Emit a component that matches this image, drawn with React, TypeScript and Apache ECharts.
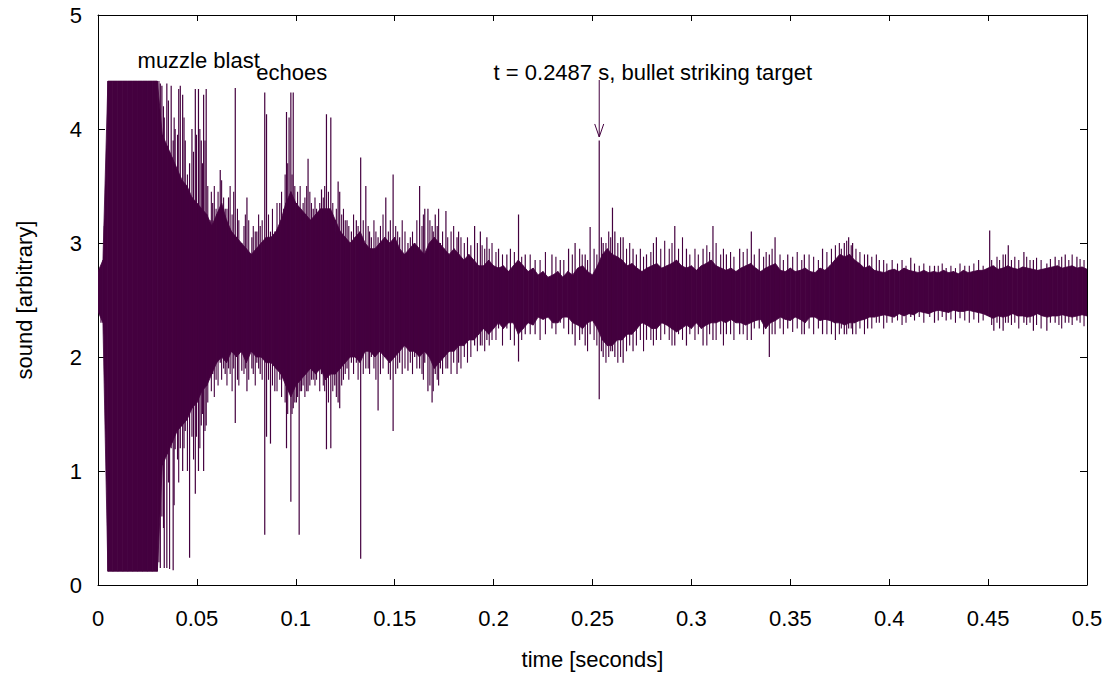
import { useEffect, useRef } from 'react';
import * as echarts from 'echarts';

const COLOR = '#44003f';
const FONT = '"Liberation Sans", Arial, Helvetica, sans-serif';
const FONT_SIZE = 22;

// x-axis ticks and y-axis ticks
const xTicks = [0, 0.05, 0.1, 0.15, 0.2, 0.25, 0.3, 0.35, 0.4, 0.45, 0.5];
const yTicks = [0, 1, 2, 3, 4, 5];

const CORE_STEP = 0.0025;
const coreHi = [
  2.75, 2.85, 4.42, 4.42, 4.42, 4.42, 4.42, 4.42, 4.42, 4.42,
  4.42, 4.42, 4.42, 3.95, 3.85, 3.75, 3.65, 3.55, 3.5, 3.4,
  3.35, 3.3, 3.25, 3.15, 3.25, 3.35, 3.2, 3.1, 3.05, 3.0,
  2.95, 2.9, 2.95, 3.0, 3.05, 3.05, 3.1, 3.2, 3.35, 3.45,
  3.35, 3.3, 3.25, 3.2, 3.25, 3.3, 3.3, 3.3, 3.2, 3.1,
  3.05, 3.0, 3.05, 3.1, 3.0, 2.95, 2.95, 3.0, 3.05, 3.0,
  3.05, 2.95, 2.9, 2.95, 3.0, 2.95, 2.9, 3.0, 3.05, 3.0,
  2.95, 2.9, 2.95, 2.9, 2.85, 2.9, 2.85, 2.8, 2.8, 2.85,
  2.8, 2.78, 2.8, 2.75, 2.8, 2.85, 2.8, 2.75, 2.78, 2.72,
  2.75, 2.7, 2.72, 2.75, 2.7, 2.75, 2.72, 2.78, 2.8, 2.75,
  2.72, 2.8, 2.9, 2.95, 2.9, 2.88, 2.85, 2.8, 2.82, 2.78,
  2.75, 2.78, 2.8, 2.82, 2.78, 2.8, 2.82, 2.85, 2.8, 2.78,
  2.8, 2.76, 2.8, 2.82, 2.85, 2.8, 2.78, 2.76, 2.78, 2.75,
  2.78, 2.8, 2.82, 2.78, 2.75, 2.78, 2.8, 2.82, 2.76, 2.75,
  2.78, 2.75, 2.76, 2.78, 2.75, 2.74, 2.78, 2.76, 2.8, 2.85,
  2.9, 2.88, 2.9, 2.85, 2.82, 2.78, 2.8, 2.76, 2.75, 2.74,
  2.76, 2.77, 2.75, 2.78, 2.76, 2.75, 2.74, 2.76, 2.74, 2.75,
  2.74, 2.76, 2.74, 2.75, 2.73, 2.76, 2.74, 2.75, 2.76, 2.76,
  2.78, 2.8, 2.77, 2.78, 2.8, 2.78, 2.77, 2.79, 2.78, 2.77,
  2.76, 2.77, 2.78, 2.79, 2.8, 2.78, 2.79, 2.8, 2.78, 2.79,
  2.77,
];
const coreLo = [
  2.4, 2.3, 0.12, 0.12, 0.12, 0.12, 0.12, 0.12, 0.12, 0.12,
  0.12, 0.12, 0.12, 1.05, 1.15, 1.25, 1.35, 1.4, 1.45, 1.55,
  1.6, 1.7, 1.75, 1.85, 1.95, 2.0, 1.95, 2.05, 2.0, 2.05,
  1.95, 2.05, 2.0, 2.0, 1.95, 1.95, 1.9, 1.85, 1.75, 1.65,
  1.75, 1.8, 1.85, 1.9, 1.85, 1.9, 1.8, 1.85, 1.85, 1.9,
  1.95, 2.0, 2.0, 1.95, 2.05, 2.05, 2.0, 2.05, 2.0, 1.95,
  2.0, 2.05, 2.1, 2.05, 2.05, 2.0, 2.05, 2.0, 1.9, 1.95,
  2.0, 2.05, 2.05, 2.1, 2.1, 2.15, 2.15, 2.2, 2.25, 2.2,
  2.25, 2.3, 2.25, 2.3, 2.3, 2.2, 2.25, 2.3, 2.28, 2.35,
  2.33, 2.35, 2.3, 2.3, 2.35, 2.35, 2.3, 2.28, 2.25, 2.3,
  2.32, 2.25, 2.15, 2.1, 2.1, 2.15, 2.15, 2.2, 2.2, 2.25,
  2.3, 2.28, 2.25, 2.25, 2.3, 2.28, 2.25, 2.22, 2.25, 2.28,
  2.25, 2.3, 2.25, 2.28, 2.3, 2.3, 2.32, 2.3, 2.33, 2.3,
  2.3, 2.28, 2.3, 2.32, 2.33, 2.25, 2.3, 2.32, 2.35, 2.33,
  2.32, 2.35, 2.33, 2.3, 2.35, 2.35, 2.32, 2.33, 2.32, 2.3,
  2.3, 2.28, 2.3, 2.3, 2.32, 2.33, 2.35, 2.35, 2.36, 2.37,
  2.36, 2.35, 2.38, 2.36, 2.38, 2.37, 2.4, 2.39, 2.38, 2.4,
  2.41, 2.4, 2.39, 2.41, 2.4, 2.4, 2.41, 2.4, 2.39, 2.38,
  2.36, 2.34, 2.36, 2.35, 2.36, 2.38, 2.36, 2.36, 2.35, 2.36,
  2.38, 2.36, 2.35, 2.36, 2.36, 2.37, 2.36, 2.35, 2.36, 2.37,
  2.36,
];

// Large individual spikes: [time, low, high]
const spikes: [number, number, number][] = [
  [0.0015, 2.3, 2.75], [0.0032, 2.2, 3.15], [0.0315, 0.15, 4.4], [0.0323, 0.6, 4.38],
  [0.0335, 0.15, 4.1], [0.0348, 0.15, 4.4], [0.037, 1.2, 4.38], [0.038, 0.13, 3.9],
  [0.039, 1.19, 4.0], [0.0416, 1.2, 4.38], [0.0428, 1.0, 4.3], [0.0441, 1.35, 3.9],
  [0.0463, 0.24, 3.7], [0.0475, 1.3, 4.0], [0.0492, 0.8, 4.35], [0.0508, 1.0, 4.35],
  [0.0522, 1.4, 3.9], [0.0534, 1.0, 4.3], [0.0547, 1.4, 4.35], [0.0567, 1.9, 3.2],
  [0.058, 1.85, 3.35], [0.0618, 1.95, 3.64], [0.0643, 1.85, 3.3], [0.066, 1.9, 3.4],
  [0.0694, 1.42, 4.36], [0.0727, 1.88, 3.0], [0.0753, 1.7, 3.4], [0.0778, 1.9, 3.05],
  [0.0803, 1.95, 3.1], [0.082, 1.85, 3.15], [0.0843, 0.44, 4.32], [0.0852, 1.3, 4.13],
  [0.0872, 1.24, 3.1], [0.0894, 1.7, 3.1], [0.0919, 1.8, 3.35], [0.0939, 1.9, 3.3],
  [0.0953, 1.2, 4.15], [0.0966, 1.7, 4.1], [0.0975, 0.73, 4.32], [0.0987, 1.55, 4.32],
  [0.1003, 1.6, 3.35], [0.1017, 0.44, 3.2], [0.1029, 1.7, 3.2], [0.1062, 1.7, 3.74],
  [0.1088, 1.8, 3.3], [0.1113, 1.9, 3.2], [0.113, 1.85, 3.47], [0.1155, 1.19, 4.13],
  [0.1177, 1.2, 4.1], [0.1197, 1.75, 3.1], [0.1214, 1.6, 3.54], [0.1222, 1.55, 3.45],
  [0.1259, 1.9, 3.2], [0.1281, 1.95, 3.1], [0.1306, 1.95, 3.2], [0.1328, 0.23, 3.75],
  [0.1354, 1.9, 3.5], [0.1382, 2.0, 3.05], [0.1416, 1.53, 3.05], [0.1455, 2.0, 3.4],
  [0.1492, 1.35, 3.6], [0.1525, 1.95, 3.05], [0.1567, 1.88, 3.0], [0.1601, 2.0, 3.0],
  [0.1626, 1.9, 3.5], [0.1652, 1.95, 3.3], [0.1668, 1.7, 3.3], [0.1689, 1.6, 3.15],
  [0.1705, 1.85, 3.25], [0.1731, 1.9, 3.0], [0.1759, 1.9, 3.28], [0.1815, 1.85, 3.05],
  [0.1823, 1.95, 3.1], [0.1904, 2.1, 3.15], [0.1933, 2.1, 3.1], [0.1966, 2.15, 3.05],
  [0.2025, 2.25, 2.95], [0.2067, 2.25, 2.9], [0.2126, 1.96, 3.25], [0.216, 2.2, 2.9],
  [0.221, 2.2, 2.85], [0.2295, 2.25, 2.9], [0.2337, 2.3, 2.85], [0.2379, 2.2, 2.95],
  [0.2412, 2.1, 3.0], [0.2463, 2.1, 2.9], [0.2488, 2.2, 3.14], [0.2534, 1.63, 3.9],
  [0.2554, 2.0, 3.0], [0.2601, 2.05, 3.31], [0.2613, 2.0, 3.1], [0.2655, 1.95, 3.05],
  [0.2705, 2.05, 2.95], [0.2773, 2.15, 2.9], [0.2823, 2.15, 3.05], [0.2916, 2.1, 3.15],
  [0.2975, 2.1, 2.95], [0.3059, 2.1, 2.95], [0.3109, 2.15, 3.15], [0.3177, 2.2, 2.9],
  [0.3244, 2.2, 2.95], [0.3303, 2.15, 3.1], [0.3343, 2.25, 2.95], [0.3394, 2.0, 2.9],
  [0.3423, 2.2, 3.05], [0.3487, 2.25, 2.9], [0.3571, 2.2, 2.9], [0.3663, 2.2, 2.95],
  [0.3773, 2.2, 3.0], [0.3795, 2.25, 3.05], [0.3815, 2.2, 3.0], [0.3891, 2.25, 2.9],
  [0.395, 2.3, 2.85], [0.4109, 2.35, 2.87], [0.4229, 2.3, 2.8], [0.4288, 2.32, 2.78],
  [0.4508, 2.35, 3.11], [0.4529, 2.23, 2.8], [0.4576, 2.23, 2.9], [0.4602, 2.3, 2.98],
  [0.4681, 2.3, 2.92], [0.4729, 2.23, 2.85], [0.4797, 2.23, 2.82], [0.4839, 2.3, 2.88],
  [0.489, 2.3, 2.9], [0.4949, 2.32, 2.88],
];

// Smaller spikes that make the ragged edge of the waveform: [time, low, high]
const minorSpikes: [number, number, number][] = [
  [0.0308, 0.2, 4.42], [0.0331, 0.5, 4.2], [0.0356, 0.9, 4.25], [0.0362, 0.14, 3.8],
  [0.0385, 0.7, 4.1], [0.0402, 1.1, 3.95], [0.0408, 0.9, 4.35], [0.0435, 1.2, 4.1],
  [0.0452, 1.0, 3.6], [0.0483, 1.1, 3.8], [0.0498, 1.3, 3.95], [0.0515, 1.2, 4.0],
  [0.0528, 1.5, 3.7], [0.0541, 1.35, 3.9], [0.0555, 1.6, 3.5], [0.0573, 1.7, 3.45],
  [0.0588, 1.65, 3.5], [0.0597, 1.8, 3.3],
  [0.0607, 1.75, 3.45], [0.0625, 1.8, 3.55], [0.0635, 1.9, 3.4], [0.0652, 1.75, 3.3],
  [0.0668, 1.85, 3.5], [0.0678, 1.7, 3.25], [0.0686, 1.9, 3.45], [0.0705, 1.8, 3.3],
  [0.0712, 1.75, 3.2], [0.0738, 1.85, 3.15], [0.0745, 1.9, 3.25], [0.0762, 1.8, 3.2],
  [0.0785, 1.85, 3.15], [0.0795, 1.75, 3.1], [0.0812, 1.9, 3.25], [0.083, 1.8, 3.2],
  [0.0862, 1.8, 3.25], [0.0882, 1.75, 3.3], [0.0905, 1.7, 3.35], [0.0928, 1.65, 3.45],
  [0.0946, 1.6, 3.6], [0.0959, 1.5, 3.7], [0.0981, 1.5, 3.6], [0.0995, 1.6, 3.5],
  [0.1009, 1.65, 3.45], [0.1022, 1.7, 3.5], [0.1037, 1.75, 3.35], [0.1046, 1.65, 3.4],
  [0.1055, 1.7, 3.5], [0.1071, 1.75, 3.45], [0.1079, 1.8, 3.35], [0.1097, 1.75, 3.4],
  [0.1105, 1.8, 3.3], [0.1121, 1.7, 3.35], [0.1139, 1.75, 3.4], [0.1146, 1.7, 3.5],
  [0.1165, 1.6, 3.45], [0.1187, 1.7, 3.35], [0.1205, 1.65, 3.3], [0.1232, 1.75, 3.25],
  [0.1241, 1.8, 3.3], [0.125, 1.85, 3.2], [0.1268, 1.8, 3.15], [0.1292, 1.85, 3.25],
  [0.1315, 1.8, 3.15], [0.1341, 1.85, 3.2], [0.1366, 1.9, 3.15], [0.1373, 1.85, 3.1],
  [0.1395, 1.9, 3.2], [0.1405, 1.8, 3.1], [0.1428, 1.85, 3.15], [0.1441, 1.9, 3.25],
  [0.1468, 1.85, 3.1], [0.1478, 1.8, 3.2],
  [0.1505, 1.85, 3.15], [0.1515, 1.9, 3.1], [0.1538, 1.85, 3.2], [0.1552, 1.9, 3.1],
  [0.1579, 1.95, 3.05], [0.159, 1.85, 3.1], [0.1612, 1.9, 3.2], [0.1638, 1.85, 3.15],
  [0.1645, 1.8, 3.25], [0.1678, 1.75, 3.2], [0.1695, 1.7, 3.1], [0.1715, 1.8, 3.15],
  [0.1722, 1.75, 3.3], [0.1742, 1.85, 3.1], [0.1768, 1.9, 3.05], [0.1785, 1.85, 3.1],
  [0.1798, 1.95, 3.15], [0.1835, 1.9, 3.05], [0.1852, 2.0, 3.0], [0.1868, 1.95, 3.05],
  [0.1885, 2.0, 2.98], [0.1918, 2.05, 3.0], [0.1942, 2.1, 2.98], [0.1955, 2.05, 2.95],
  [0.1978, 2.1, 2.95], [0.1992, 2.15, 3.0],
  [0.2012, 2.15, 2.92], [0.2045, 2.1, 2.9], [0.2085, 2.15, 2.95], [0.2105, 2.1, 2.92],
  [0.2142, 2.15, 2.88], [0.2185, 2.2, 2.9], [0.2235, 2.15, 2.85], [0.2262, 2.2, 2.92],
  [0.2315, 2.2, 2.88], [0.2355, 2.25, 2.85], [0.2398, 2.2, 2.9], [0.2435, 2.15, 2.95],
  [0.2448, 2.2, 2.9], [0.2475, 2.05, 2.85], [0.2508, 2.15, 2.95], [0.2522, 2.1, 2.9],
  [0.2545, 2.05, 3.05], [0.2568, 1.95, 3.0], [0.2582, 2.0, 3.1], [0.2592, 2.05, 3.05],
  [0.2628, 1.95, 3.0], [0.2642, 2.0, 3.05], [0.2672, 2.05, 2.95], [0.2688, 2.1, 3.0],
  [0.2722, 2.1, 2.9], [0.2742, 2.15, 2.95], [0.2758, 2.05, 2.88], [0.2795, 2.15, 2.92],
  [0.2808, 2.1, 3.0], [0.2845, 2.15, 2.95], [0.2865, 2.2, 3.02], [0.2888, 2.15, 2.95],
  [0.2902, 2.1, 3.0], [0.2935, 2.2, 2.95], [0.2955, 2.15, 3.05], [0.2992, 2.2, 2.9],
  [0.3018, 2.15, 2.95], [0.3035, 2.2, 2.9], [0.3078, 2.1, 2.98], [0.3092, 2.2, 2.92],
  [0.3125, 2.15, 3.0], [0.3148, 2.2, 2.9], [0.3162, 2.1, 2.95], [0.3198, 2.2, 2.92],
  [0.3215, 2.15, 2.88], [0.3262, 2.2, 2.92], [0.3282, 2.15, 2.95], [0.3318, 2.25, 2.9],
  [0.3365, 2.2, 2.88], [0.3378, 2.25, 2.92], [0.3408, 2.2, 2.95], [0.3448, 2.25, 2.9],
  [0.3465, 2.2, 2.85],
  [0.3512, 2.22, 2.88], [0.3535, 2.25, 2.92], [0.3558, 2.2, 2.85], [0.3595, 2.25, 2.9],
  [0.3618, 2.2, 2.88], [0.3642, 2.25, 2.85], [0.3685, 2.2, 2.92], [0.3708, 2.2, 2.95],
  [0.3728, 2.15, 2.98], [0.3748, 2.2, 3.0], [0.3758, 2.25, 2.95], [0.3785, 2.2, 3.02],
  [0.3808, 2.25, 2.98], [0.3832, 2.2, 2.95], [0.3852, 2.25, 2.92], [0.3875, 2.2, 2.9],
  [0.3912, 2.25, 2.88], [0.3935, 2.3, 2.9], [0.3972, 2.25, 2.85], [0.3988, 2.3, 2.82],
  [0.4015, 2.3, 2.85], [0.4042, 2.32, 2.82], [0.4065, 2.28, 2.85], [0.4085, 2.3, 2.8],
  [0.4128, 2.32, 2.82], [0.4152, 2.35, 2.8], [0.4175, 2.3, 2.82], [0.4205, 2.35, 2.8],
  [0.4248, 2.32, 2.8], [0.4268, 2.35, 2.82], [0.4312, 2.33, 2.8], [0.4335, 2.3, 2.78],
  [0.4358, 2.34, 2.82], [0.4382, 2.32, 2.8], [0.4405, 2.3, 2.8], [0.4428, 2.33, 2.82],
  [0.4452, 2.3, 2.85], [0.4475, 2.32, 2.8],
  [0.4518, 2.28, 2.85], [0.4545, 2.3, 2.88], [0.4558, 2.25, 2.85], [0.4588, 2.3, 2.9],
  [0.4618, 2.28, 2.85], [0.4635, 2.3, 2.88], [0.4655, 2.25, 2.85], [0.4695, 2.28, 2.88],
  [0.4712, 2.3, 2.85], [0.4745, 2.28, 2.87], [0.4768, 2.25, 2.85], [0.4815, 2.3, 2.86],
  [0.4858, 2.28, 2.85], [0.4872, 2.25, 2.88], [0.4908, 2.3, 2.85], [0.4925, 2.28, 2.9],
  [0.4965, 2.3, 2.86], [0.4985, 2.27, 2.85],
];

// Annotations (data coordinates)
const labelTexts = ['muzzle blast', 'echoes', 't = 0.2487 s, bullet striking target'];
const labelTimes = [0.02, 0.08, 0.2];
const labelValues = [4.6, 4.5, 4.5];
const arrowTime = 0.2534;
const arrowFrom = 4.43;
const arrowTo = 3.93;

const spikeRender = (width: number) => (_params: any, api: any) => {
  const t = api.value(0);
  const a = api.coord([t, api.value(1)]);
  const b = api.coord([t, api.value(2)]);
  return {
    type: 'line',
    shape: { x1: a[0], y1: a[1], x2: b[0], y2: b[1] },
    style: { stroke: COLOR, lineWidth: width },
  };
};

export default function App() {
  const ref = useRef<HTMLDivElement>(null);

  useEffect(() => {
    const chart = echarts.init(ref.current!, null, { renderer: 'svg' });
    // one quad per envelope step: [t0, lo0, hi0, t1, lo1, hi1]
    const coreItems = coreHi.slice(0, -1).map((h, i) => [
      +(i * CORE_STEP).toFixed(4), coreLo[i], h,
      +((i + 1) * CORE_STEP).toFixed(4), coreLo[i + 1], coreHi[i + 1],
    ]);
    const axisCommon = {
      axisLine: { show: true, onZero: false, lineStyle: { color: '#000', width: 1 } },
      splitLine: { show: false },
    };
    const fmt = (v: number) => String(+v.toFixed(2));

    chart.setOption({
      animation: false,
      backgroundColor: '#fff',
      grid: { left: 98, right: 24, top: 15, bottom: 88, containLabel: false },
      xAxis: [
        {
          type: 'value', min: xTicks[0], max: xTicks[xTicks.length - 1], interval: 0.05,
          position: 'bottom', ...axisCommon,
          axisTick: { show: true, inside: true, length: 6, lineStyle: { color: '#000' } },
          axisLabel: { margin: 22, fontSize: FONT_SIZE, color: '#000', fontFamily: FONT, formatter: fmt },
          name: 'time [seconds]', nameLocation: 'middle', nameGap: 63,
          nameTextStyle: { fontSize: FONT_SIZE, color: '#000', fontFamily: FONT },
        },
        {
          type: 'value', min: xTicks[0], max: xTicks[xTicks.length - 1], interval: 0.05,
          position: 'top', ...axisCommon,
          axisTick: { show: true, inside: true, length: 6, lineStyle: { color: '#000' } },
          axisLabel: { show: false },
        },
      ],
      yAxis: [
        {
          type: 'value', min: yTicks[0], max: yTicks[yTicks.length - 1], interval: 1,
          position: 'left', ...axisCommon,
          axisTick: { show: true, inside: true, length: 7, lineStyle: { color: '#000' } },
          axisLabel: { margin: 16, fontSize: FONT_SIZE, color: '#000', fontFamily: FONT },
          name: 'sound [arbitrary]', nameLocation: 'middle', nameGap: 63, nameRotate: 90,
          nameTextStyle: { fontSize: FONT_SIZE, color: '#000', fontFamily: FONT },
        },
        {
          type: 'value', min: yTicks[0], max: yTicks[yTicks.length - 1], interval: 1,
          position: 'right', ...axisCommon,
          axisTick: { show: true, inside: true, length: 7, lineStyle: { color: '#000' } },
          axisLabel: { show: false },
        },
      ],
      series: [
        {
          type: 'custom', name: 'envelope', xAxisIndex: 0, yAxisIndex: 0,
          clip: true,
          encode: { x: [0, 3], y: [1, 2, 4, 5] },
          data: coreItems,
          renderItem: (_params: any, api: any) => {
            const p0l = api.coord([api.value(0), api.value(1)]);
            const p0h = api.coord([api.value(0), api.value(2)]);
            const p1h = api.coord([api.value(3), api.value(5)]);
            const p1l = api.coord([api.value(3), api.value(4)]);
            return {
              type: 'polygon',
              shape: { points: [p0l, p0h, p1h, p1l] },
              style: { fill: COLOR, stroke: COLOR, lineWidth: 0.8 },
            };
          },
          z: 2,
        },
        {
          type: 'custom', name: 'minor spikes', xAxisIndex: 0, yAxisIndex: 0,
          clip: true,
          encode: { x: 0, y: [1, 2] },
          data: minorSpikes,
          renderItem: spikeRender(1.1),
          z: 3,
        },
        {
          type: 'custom', name: 'spikes', xAxisIndex: 0, yAxisIndex: 0,
          clip: true,
          encode: { x: 0, y: [1, 2] },
          data: spikes,
          renderItem: spikeRender(1.2),
          z: 3,
        },
      ],
    });

    const px = (t: number, v: number) =>
      chart.convertToPixel({ xAxisIndex: 0, yAxisIndex: 0 }, [t, v]) as number[];

    const texts = labelTexts.map((txt, i) => {
      const p = px(labelTimes[i], labelValues[i]);
      return {
        type: 'text', x: p[0], y: p[1], z: 10,
        style: {
          text: txt, fill: '#000', fontSize: FONT_SIZE, fontFamily: FONT,
          align: 'left', verticalAlign: 'middle',
        },
      };
    });
    const a0 = px(arrowTime, arrowFrom);
    const a1 = px(arrowTime, arrowTo);
    chart.setOption({
      graphic: [
        ...texts,
        {
          type: 'line', z: 10,
          shape: { x1: a0[0], y1: a0[1], x2: a1[0], y2: a1[1] },
          style: { stroke: COLOR, lineWidth: 1 },
        },
        {
          type: 'polyline', z: 10,
          shape: { points: [[a1[0] - 4.5, a1[1] - 13], [a1[0], a1[1]], [a1[0] + 4.5, a1[1] - 13]] },
          style: { stroke: COLOR, lineWidth: 1, fill: 'none' },
        },
      ],
    });

    return () => chart.dispose();
  }, []);

  return (
    <div
      ref={ref}
      style={{ position: 'fixed', left: 0, top: 0, width: 1111, height: 675, background: '#fff' }}
    />
  );
}
